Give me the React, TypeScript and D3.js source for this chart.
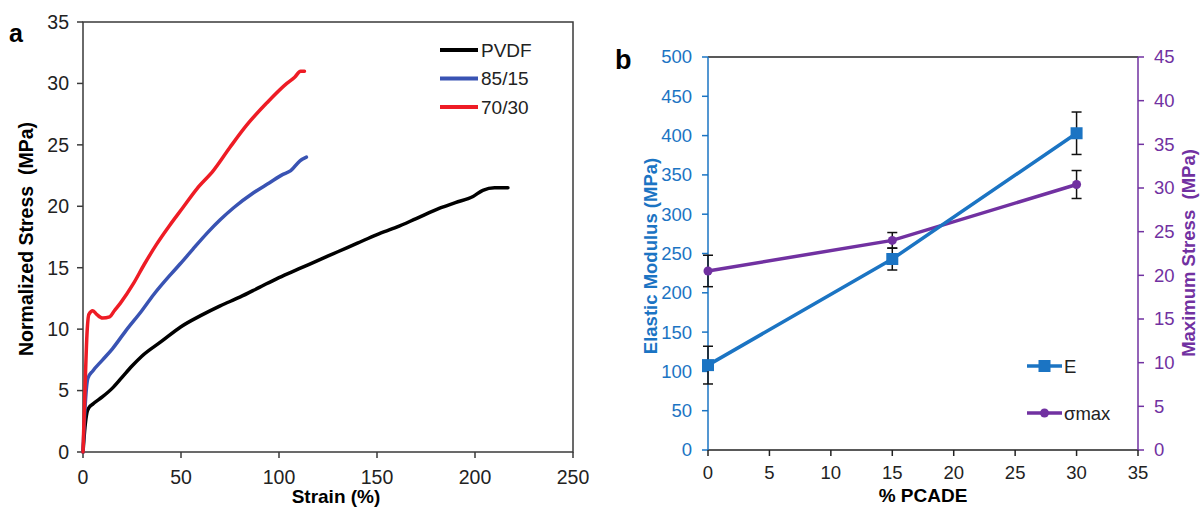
import React from "react";
import * as d3 from "d3";

// ---------- Panel a data ----------
const pvdfStrain = [0, 1, 2, 3, 5, 10, 15, 20, 25, 30, 40, 50, 60, 70, 80, 90, 100, 110, 120, 130, 140, 150, 160, 170, 182, 190, 199, 204, 210, 216.8];
const pvdfStress = [0, 2.0, 3.2, 3.6, 3.9, 4.5, 5.2, 6.1, 7.0, 7.8, 9.0, 10.2, 11.1, 11.9, 12.6, 13.4, 14.2, 14.9, 15.6, 16.3, 17.0, 17.7, 18.3, 19.0, 19.85, 20.3, 20.8, 21.3, 21.5, 21.5];

const b85Strain = [0, 1, 2.5, 5, 10, 15, 22, 30, 36, 45, 49.5, 56, 63.8, 70, 77, 87, 95, 102, 106, 110.7, 114];
const b85Stress = [0, 3.5, 6.0, 6.6, 7.5, 8.4, 9.9, 11.5, 12.8, 14.5, 15.3, 16.5, 17.9, 18.9, 19.9, 21.1, 21.9, 22.6, 22.9, 23.7, 24.0];

const r70Strain = [0, 1, 2, 3, 5, 7, 10, 13.6, 16, 19, 25.7, 31, 37.5, 44, 51, 58, 66.5, 75, 83.5, 93.7, 104, 108, 111, 113];
const r70Stress = [0, 5, 9.5, 11.2, 11.5, 11.2, 10.9, 11.0, 11.5, 12.1, 13.7, 15.2, 16.9, 18.4, 19.9, 21.4, 22.9, 24.8, 26.6, 28.4, 30.0, 30.5, 31.0, 31.0];

const seriesNamesA = ["PVDF", "85/15", "70/30"];
const seriesColorsA = ["#000000", "#3953b3", "#ee1c25"];
const xTicksA = [0, 50, 100, 150, 200, 250];
const yTicksA = [0, 5, 10, 15, 20, 25, 30, 35];

// ---------- Panel b data ----------
const pcade = [0, 15, 30];
const modulusE = [108, 243, 403];
const modulusErr = [24, 14, 27];
const sigmaMax = [20.5, 24.0, 30.4];
const sigmaErr = [1.8, 0.9, 1.6];
const xTicksB = [0, 5, 10, 15, 20, 25, 30, 35];
const yTicksBL = [0, 50, 100, 150, 200, 250, 300, 350, 400, 450, 500];
const yTicksBR = [0, 5, 10, 15, 20, 25, 30, 35, 40, 45];

const BLUE = "#1b74c3";
const PURPLE = "#7131a1";
const FONT = "'Liberation Sans', Arial, sans-serif";

export default function App() {
  // Panel a scales
  const xa = d3.scaleLinear().domain([0, 250]).range([83, 573]);
  const ya = d3.scaleLinear().domain([0, 35]).range([452, 22]);
  const lineA = d3.line<[number, number]>().x(d => xa(d[0])).y(d => ya(d[1])).curve(d3.curveMonotoneX);
  const seriesA: [number, number][][] = [
    pvdfStrain.map((s, i) => [s, pvdfStress[i]]),
    b85Strain.map((s, i) => [s, b85Stress[i]]),
    r70Strain.map((s, i) => [s, r70Stress[i]]),
  ];

  // Panel b scales
  const xb = d3.scaleLinear().domain([0, 35]).range([708, 1138]);
  const ybl = d3.scaleLinear().domain([0, 500]).range([450, 57]);
  const ybr = d3.scaleLinear().domain([0, 45]).range([450, 57]);
  const lineE = d3.line<number>().x((_, i) => xb(pcade[i])).y(d => ybl(d));
  const lineS = d3.line<number>().x((_, i) => xb(pcade[i])).y(d => ybr(d));

  return (
    <div style={{ position: "fixed", left: 0, top: 0 }}>
      <svg width={1200} height={507} style={{ display: "block", fontFamily: FONT }}>
        <rect width={1200} height={507} fill="#fff" />
        {/* ---------------- Panel a ---------------- */}
        <text x={9} y={42} fontSize={25} fontWeight="bold">a</text>
        <rect x={xa(0)} y={ya(35)} width={xa(250) - xa(0)} height={ya(0) - ya(35)} fill="none" stroke="#3a3a3a" strokeWidth={1.5} />
        {yTicksA.map(t => (
          <g key={"ya" + t}>
            <line x1={xa(0) - 6} x2={xa(0)} y1={ya(t)} y2={ya(t)} stroke="#3a3a3a" strokeWidth={1.5} />
            <text x={xa(0) - 14} y={ya(t)} dy="0.35em" textAnchor="end" fontSize={19.5} fill="#222">{t}</text>
          </g>
        ))}
        {xTicksA.map(t => (
          <g key={"xa" + t}>
            <line x1={xa(t)} x2={xa(t)} y1={ya(0)} y2={ya(0) + 6} stroke="#3a3a3a" strokeWidth={1.5} />
            <text x={xa(t)} y={ya(0) + 32} textAnchor="middle" fontSize={19.5} fill="#222">{t}</text>
          </g>
        ))}
        <text x={336} y={503} textAnchor="middle" fontSize={19} fontWeight="bold">Strain (%)</text>
        <text transform={`translate(33,${(ya(0) + ya(35)) / 2 + 2}) rotate(-90)`} textAnchor="middle" fontSize={19.5} fontWeight="bold" style={{ whiteSpace: "pre" }}>{"Normalized Stress  (MPa)"}</text>
        {seriesA.map((s, i) => (
          <path key={"sa" + i} d={lineA(s) || ""} fill="none" stroke={seriesColorsA[i]} strokeWidth={3.5} strokeLinejoin="round" strokeLinecap="round" />
        ))}
        {seriesNamesA.map((n, i) => (
          <g key={"lega" + i}>
            <line x1={440} x2={478} y1={50 + i * 28.5} y2={50 + i * 28.5} stroke={seriesColorsA[i]} strokeWidth={4} />
            <text x={481} y={50 + i * 28.5} dy="0.36em" fontSize={19} fill="#222">{n}</text>
          </g>
        ))}

        {/* ---------------- Panel b ---------------- */}
        <text x={615} y={69} fontSize={27} fontWeight="bold">b</text>
        <line x1={xb(0)} x2={xb(35)} y1={ybl(500)} y2={ybl(500)} stroke="#222" strokeWidth={1.5} />
        <line x1={xb(0)} x2={xb(35)} y1={ybl(0)} y2={ybl(0)} stroke="#222" strokeWidth={1.5} />
        <line x1={xb(0)} x2={xb(0)} y1={ybl(0)} y2={ybl(500)} stroke={BLUE} strokeWidth={1.5} />
        <line x1={xb(35)} x2={xb(35)} y1={ybr(0)} y2={ybr(45)} stroke={PURPLE} strokeWidth={1.5} />
        {yTicksBL.map(t => (
          <g key={"ybl" + t}>
            <line x1={xb(0) - 6} x2={xb(0)} y1={ybl(t)} y2={ybl(t)} stroke={BLUE} strokeWidth={1.5} />
            <text x={xb(0) - 16} y={ybl(t)} dy="0.35em" textAnchor="end" fontSize={18.5} fill={BLUE}>{t}</text>
          </g>
        ))}
        {yTicksBR.map(t => (
          <g key={"ybr" + t}>
            <line x1={xb(35)} x2={xb(35) + 6} y1={ybr(t)} y2={ybr(t)} stroke={PURPLE} strokeWidth={1.5} />
            <text x={xb(35) + 16} y={ybr(t)} dy="0.35em" textAnchor="start" fontSize={18.5} fill={PURPLE}>{t}</text>
          </g>
        ))}
        {xTicksB.map(t => (
          <g key={"xb" + t}>
            <line x1={xb(t)} x2={xb(t)} y1={ybl(0)} y2={ybl(0) + 6} stroke="#222" strokeWidth={1.5} />
            <text x={xb(t)} y={ybl(0) + 29} textAnchor="middle" fontSize={18.5} fill="#222">{t}</text>
          </g>
        ))}
        <text x={923} y={502} textAnchor="middle" fontSize={19} fontWeight="bold">% PCADE</text>
        <text transform={`translate(657,256) rotate(-90)`} textAnchor="middle" fontSize={18.5} fontWeight="bold" fill={BLUE}>Elastic Modulus (MPa)</text>
        <text transform={`translate(1195,253) rotate(-90)`} textAnchor="middle" fontSize={18.5} fontWeight="bold" fill={PURPLE} style={{ whiteSpace: "pre" }}>{"Maximum Stress  (MPa)"}</text>

        {/* lines */}
        <path d={lineS(sigmaMax) || ""} fill="none" stroke={PURPLE} strokeWidth={3.5} />
        <path d={lineE(modulusE) || ""} fill="none" stroke={BLUE} strokeWidth={3.5} />
        {/* error bars */}
        {pcade.map((p, i) => (
          <g key={"eb" + i} stroke="#111" strokeWidth={1.5}>
            <line x1={xb(p)} x2={xb(p)} y1={ybl(modulusE[i] - modulusErr[i])} y2={ybl(modulusE[i] + modulusErr[i])} />
            <line x1={xb(p) - 5} x2={xb(p) + 5} y1={ybl(modulusE[i] - modulusErr[i])} y2={ybl(modulusE[i] - modulusErr[i])} />
            <line x1={xb(p) - 5} x2={xb(p) + 5} y1={ybl(modulusE[i] + modulusErr[i])} y2={ybl(modulusE[i] + modulusErr[i])} />
            <line x1={xb(p)} x2={xb(p)} y1={ybr(sigmaMax[i] - sigmaErr[i])} y2={ybr(sigmaMax[i] + sigmaErr[i])} />
            <line x1={xb(p) - 5} x2={xb(p) + 5} y1={ybr(sigmaMax[i] - sigmaErr[i])} y2={ybr(sigmaMax[i] - sigmaErr[i])} />
            <line x1={xb(p) - 5} x2={xb(p) + 5} y1={ybr(sigmaMax[i] + sigmaErr[i])} y2={ybr(sigmaMax[i] + sigmaErr[i])} />
          </g>
        ))}
        {/* markers */}
        {pcade.map((p, i) => (
          <circle key={"cs" + i} cx={xb(p)} cy={ybr(sigmaMax[i])} r={4.5} fill={PURPLE} />
        ))}
        {pcade.map((p, i) => (
          <rect key={"re" + i} x={xb(p) - 6} y={ybl(modulusE[i]) - 6} width={12} height={12} fill={BLUE} />
        ))}
        {/* legend b */}
        <line x1={1027} x2={1062} y1={366} y2={366} stroke={BLUE} strokeWidth={3.5} />
        <rect x={1044.5 - 6} y={360} width={12} height={12} fill={BLUE} />
        <text x={1064} y={366} dy="0.36em" fontSize={18.5} fill="#222">E</text>
        <line x1={1027} x2={1062} y1={413} y2={413} stroke={PURPLE} strokeWidth={3.5} />
        <circle cx={1044.5} cy={413} r={4.5} fill={PURPLE} />
        <text x={1064} y={413} dy="0.36em" fontSize={18.5} fill="#222">σmax</text>
      </svg>
    </div>
  );
}
